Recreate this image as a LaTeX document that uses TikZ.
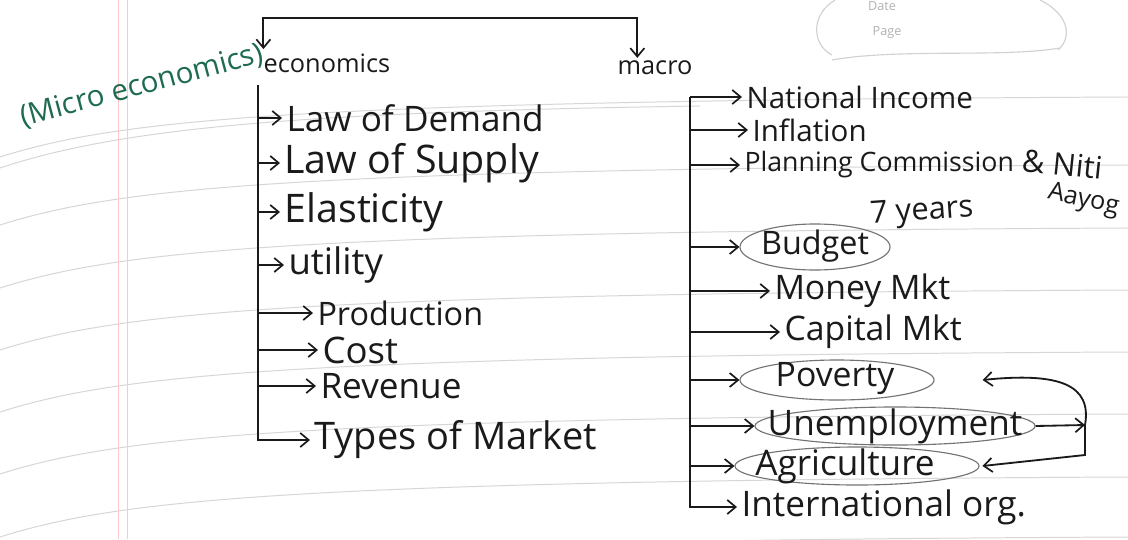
\documentclass[tikz,border=0pt]{standalone}
\usepackage{fontspec}
\setmainfont{Open Sans}
\usetikzlibrary{arrows.meta,shapes.geometric,calc}
\definecolor{pen}{HTML}{1E6B50}
\definecolor{ink}{HTML}{1A1A1A}
\begin{document}
\begin{tikzpicture}[x=0.025cm,y=-0.025cm,
  inkline/.style={draw=ink,line width=1.3pt},
  arr/.style={inkline,-{Straight Barb[length=6pt,width=10pt,line width=1.2pt]}},
  twoarr/.style={inkline,{Straight Barb[length=6pt,width=10pt,line width=1.2pt]}-{Straight Barb[length=6pt,width=10pt,line width=1.2pt]}},
  item/.style={anchor=west,inner sep=3pt,text=ink},
  citem/.style={inner sep=0pt,text=ink},
  oval/.style={ellipse,draw=black!55,line width=0.8pt,inner sep=0pt},
  rule/.style={draw=black!16,line width=0.7pt},
  margin/.style={draw=red!22,line width=0.6pt},
  stamp/.style={draw=black!18,line width=0.8pt},
  fs/.style={font=\fontsize{#1}{#1}\selectfont}]
\fill[white] (0,0) rectangle (1128,539);
\useasboundingbox (0,0) rectangle (1128,539);
% notebook paper
\foreach \r in {97,165,228,290,352,414,477,537}
  \draw[rule] (0,\r+60) .. controls (120,\r+22) and (300,\r+4) .. (1128,\r);
\draw[rule] (0,168) .. controls (120,128) and (300,112) .. (700,106);
\draw[margin] (118,0) -- (118,539);
\draw[margin] (127,0) -- (127,539);
\draw[stamp] (835,0) .. controls (810,15) and (812,45) .. (832,55);
\draw[stamp] (832,60) .. controls (900,48) and (1000,58) .. (1060,48);
\draw[stamp] (1040,0) .. controls (1070,15) and (1072,38) .. (1058,50);
\node[fs=9,text=black!30] (date) at (882,6) {Date};
\node[fs=9,text=black!30] (page) at (887,33) {Page};
% green annotation
\node[fs=21,text=pen,rotate=15] (micro) at (142,86) {(Micro economics)};
% heads
\node[fs=18,item,inner sep=1pt] (econ) at (262,63) {economics};
\node[fs=18,citem] (macro) at (655,68) {macro};
\coordinate (topmid) at (450,18);
\draw[twoarr] ([xshift=1pt,yshift=2pt]econ.north west) |- (topmid) -| ([xshift=0.5cm,yshift=2pt]macro.north west);
% left branch
\coordinate (L0) at (258,85);
\node[fs=25,item] (lod) at (282,118) {Law of Demand};
\node[fs=28,item] (los) at (280,163) {Law of Supply};
\node[fs=28,item] (ela) at (280,212) {Elasticity};
\node[fs=26,item] (uti) at (284,265) {utility};
\node[fs=23,item] (pro) at (313,313) {Production};
\node[fs=26,item] (cos) at (318,350) {Cost};
\node[fs=25,item] (rev) at (316,386) {Revenue};
\node[fs=27,item] (tom) at (310,440) {Types of Market};
\foreach \n in {lod,los,ela,uti,pro,cos,rev}
  \draw[arr] (\n.west -| L0) -- (\n.west);
\draw[arr] (L0) |- (tom.west);
% right branch
\coordinate (R0) at (690,88);
\node[fs=21,item] (nat) at (742,97) {National Income};
\node[fs=21,item] (inf) at (748,130) {Inflation};
\node[fs=19,item] (plan) at (740,165) {Planning Commission};
\node[fs=22,citem,anchor=west,rotate=-6] (niti) at (1022,160) {\& Niti};
\node[fs=18,citem,anchor=west,rotate=-12] (aayog) at (1048,193) {Aayog};
\node[fs=22,citem,anchor=west,rotate=4] (years) at (870,216) {7 years};
\node[oval,minimum width=3.75cm,minimum height=1.15cm] (budO) at (815,247) {};
\node[fs=23,citem] (bud) at (815,246) {Budget};
\node[fs=24,item] (money) at (770,291) {Money Mkt};
\node[fs=24,item] (cap) at (780,332) {Capital Mkt};
\node[oval,minimum width=4.85cm,minimum height=1.0cm] (povO) at (837,380) {};
\node[fs=24,citem] (pov) at (835,379) {Poverty};
\node[oval,minimum width=7cm,minimum height=0.95cm] (unO) at (895,426) {};
\node[fs=25,citem] (unemp) at (895,426) {Unemployment};
\node[oval,minimum width=6.1cm,minimum height=0.95cm] (agO) at (857,466) {};
\node[fs=25,citem] (agri) at (845,466) {Agriculture};
\node[fs=25,item] (intl) at (737,507) {International org.};
\draw[arr] (nat.west -| R0) -- (nat.west);
\foreach \n in {inf,plan,money,cap}
  \draw[arr] (\n.west -| R0) -- (\n.west);
\foreach \n in {budO,povO,unO,agO}
  \draw[arr] (\n.west -| R0) -- (\n.west);
\draw[arr] (nat.west -| R0) |- (intl.west);
% linking bracket
\coordinate (B) at (1085,425);
\draw[arr] (unO.east) -- (B);
\draw[arr] (B) .. controls (1092,385) and (1060,372) .. ([xshift=1.2cm]povO.east);
\draw[arr] (B) -- ++(0,30) -- ([xshift=2pt]agO.east);
\end{tikzpicture}
\end{document}
